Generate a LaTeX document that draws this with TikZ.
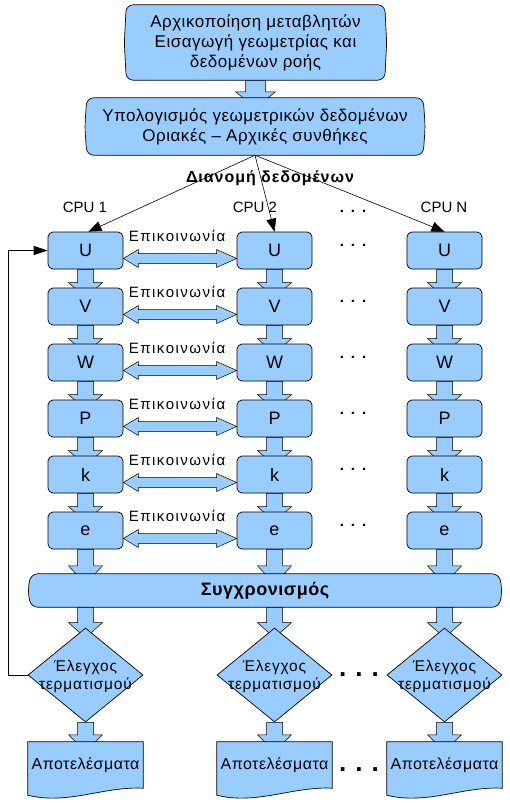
\documentclass[tikz,border=0pt]{standalone}
\usepackage{fontspec}
\setmainfont{Liberation Sans}
\usetikzlibrary{arrows.meta,calc,shapes.geometric}
\definecolor{boxblue}{RGB}{153,204,255}
\pgfdeclarelayer{back}
\pgfdeclarelayer{mid}
\pgfsetlayers{back,mid,main}
\newcommand\fs[2]{\fontsize{#1}{#2}\selectfont}
\tikzset{
  outline/.style={draw=black, line width=0.7pt},
  thinout/.style={draw=black, line width=0.5pt},
  cell/.style={outline, fill=boxblue, rounded corners=5pt, minimum width=75pt, minimum height=37pt, inner sep=0pt, font=\fs{18}{20}},
  bigbox/.style={inner sep=0pt, align=center, font=\fs{17}{20}\addfontfeature{LetterSpace=3}},
  commlabel/.style={inner sep=0pt, font=\fs{15}{18}\addfontfeature{LetterSpace=10}},
  cpulabel/.style={inner sep=0pt, font=\fs{15}{18}},
  distlabel/.style={inner sep=0pt, font=\fs{16}{18}\bfseries\addfontfeature{LetterSpace=6}},
  synclabel/.style={inner sep=0pt, minimum width=468pt, minimum height=33pt, font=\fs{18}{20}\bfseries\addfontfeature{LetterSpace=3}},
  diam/.style={shape=diamond, outline, fill=boxblue, minimum width=115pt, minimum height=94pt, inner sep=0pt},
  dtext/.style={inner sep=0pt, align=center, font=\fs{15.5}{18}\addfontfeature{LetterSpace=5}},
  doc/.style={inner sep=0pt, minimum width=115pt, minimum height=46pt, font=\fs{16}{18}\addfontfeature{LetterSpace=3}},
  smalldots/.style={inner sep=0pt, font=\fs{15}{15}\bfseries},
  bigdots/.style={inner sep=0pt, font=\fs{26}{26}\bfseries},
  distarrow/.style={draw=black, line width=0.6pt, -{Triangle[length=13pt,width=10pt]}},
  fbarrow/.style={draw=black, line width=0.8pt, -{Triangle[length=14pt,width=9pt]}},
}
\newcommand\bulge[2]{%
  \begin{pgfonlayer}{mid}
  \draw[outline, fill=boxblue, rounded corners=7pt] (#1.north) -- (#1.north east) -- ($(#1.east)+(#2,0)$) -- (#1.south east) -- (#1.south west) -- ($(#1.west)+(-#2,0)$) -- (#1.north west) -- cycle;
  \end{pgfonlayer}}
\newcommand\fatarrow[6]{%
  \begin{pgfonlayer}{back}
  \draw[thinout, fill=boxblue] ($(#3.south -| #5)+(-#1,0)$) -- ($(#3.south -| #5)+(#1,0)$) -- ($(#4.north -| #5)+(#1,-#6)$) -- ($(#4.north -| #5)+(#2,-#6)$) -- ($(#4.north -| #5)+(0,10)$) -- ($(#4.north -| #5)+(-#2,-#6)$) -- ($(#4.north -| #5)+(-#1,-#6)$) -- cycle;
  \end{pgfonlayer}}
\newcommand\commarrow[2]{%
  \draw[thinout, fill=boxblue] ($(#1.east)+(0,8)$) -- ($(#1.east)+(15,-1)$) -- ($(#1.east)+(15,3)$) -- ($(#2.west)+(-20,3)$) -- ($(#2.west)+(-20,-1)$) -- ($(#2.west)+(0,8)$) -- ($(#2.west)+(-20,17)$) -- ($(#2.west)+(-20,13)$) -- ($(#1.east)+(15,13)$) -- ($(#1.east)+(15,17)$) -- cycle;}
\newcommand\docshape[1]{%
  \begin{pgfonlayer}{mid}
  \draw[outline, fill=boxblue] (#1.south east) -- (#1.north east) -- (#1.north west) -- ($(#1.south west)+(0,7)$) .. controls ($(#1.south west)+(40,17)$) and ($(#1.south east)+(-40,-2)$) .. (#1.south east) -- cycle;
  \end{pgfonlayer}}
\begin{document}
\begin{tikzpicture}[x=1pt,y=-1pt]
\useasboundingbox (0,0) rectangle (509,803);
\begin{pgfonlayer}{back}\fill[white] (0,0) rectangle (509,803);\end{pgfonlayer}

\node[bigbox, minimum width=258pt, minimum height=75pt] (init) at (255.5,42.5) {Αρχικοποίηση μεταβλητών\\Εισαγωγή γεωμετρίας και\\δεδομένων ροής};
\bulge{init}{2}
\node[bigbox, minimum width=336pt, minimum height=57pt] (geom) at (255,126.5) {Υπολογισμός γεωμετρικών δεδομένων\\Οριακές – Αρχικές συνθήκες};
\bulge{geom}{2}
\fatarrow{10}{20}{init}{geom}{init}{6}

\node[distlabel] (dist) at (270,178) {Διανομή δεδομένων};
\node[cpulabel] (cpu1) at (85,207) {CPU 1};
\node[cpulabel] (cpu2) at (255,207) {CPU 2};
\node[cpulabel] (cpuN) at (444,207) {CPU N};
\node[smalldots] (topdots) at (353,211) {.\hspace{7pt}.\hspace{7pt}.};

\foreach \c/\x in {1/85.5,2/274.5,3/444.5}{
  \foreach \r/\y in {U/250.5,V/306.5,W/362.5,P/418.5,k/474.5,e/530.5}{
    \node[cell] (\r\c) at (\x,\y) {\r};
  }
  \foreach \a/\b in {U/V,V/W,W/P,P/k,k/e}{
    \fatarrow{8}{17}{\a\c}{\b\c}{\a\c}{5}
  }
}
\foreach \r/\y in {U/250.5,V/306.5,W/362.5,P/418.5,k/474.5,e/530.5}{
  \commarrow{\r1}{\r2}
  \node[commlabel] (comm\r) at (177,\y-15) {Επικοινωνία};
  \node[smalldots] (dots\r) at (353,\y-5) {.\hspace{7pt}.\hspace{7pt}.};
}

\draw[distarrow] (geom.south) -- ($(U1.north)+(3,0)$);
\draw[distarrow] (geom.south) -- (U2.north);
\draw[distarrow] (geom.south) -- (U3.north);

\node[synclabel] (sync) at (265,590.5) {Συγχρονισμός};
\bulge{sync}{3}

\foreach \c/\x in {1/85.5,2/274.5,3/444.5}{
  \fatarrow{8}{17}{e\c}{sync}{e\c}{8}
  \node[diam] (d\c) at (\x,675) {};
  \node[dtext] (dt\c) at (\x,676) {Έλεγχος\\τερματισμού};
  \fatarrow{8}{17}{sync}{d\c}{d\c}{5}
  \node[doc] (r\c) at (\x,765) {Αποτελέσματα};
  \docshape{r\c}
  \fatarrow{8}{17}{d\c}{r\c}{d\c}{7}
}
\node[bigdots] (ddots) at (359,675) {.\hspace{9pt}.\hspace{9pt}.};
\node[bigdots] (rdots) at (359,770) {.\hspace{9pt}.\hspace{9pt}.};

\draw[fbarrow] (d1.west) -- ++(-19,0) |- (U1.west);
\end{tikzpicture}
\end{document}
